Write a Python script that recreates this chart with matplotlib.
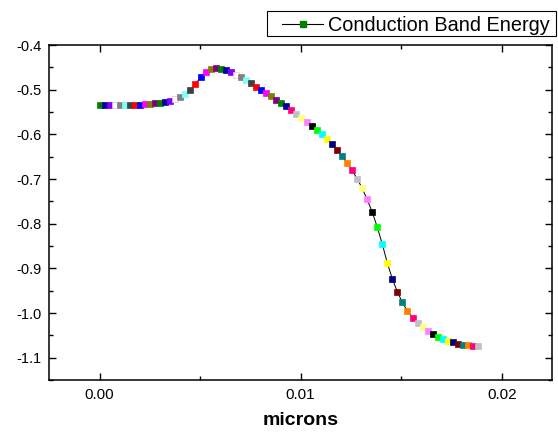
import numpy as np
import matplotlib
matplotlib.use("Agg")
from matplotlib import pyplot as plt
from matplotlib.lines import Line2D
from matplotlib.patches import Rectangle
from matplotlib.ticker import MultipleLocator

plt.rcParams['font.family'] = ['Liberation Sans', 'DejaVu Sans']

# position along the device (microns), one entry per visible marker
microns = [0.0, 0.000251, 0.000502, 0.000753, 0.001004, 0.001255, 0.001506,
           0.001757, 0.002008, 0.002259, 0.00251, 0.002761, 0.003012,
           0.003263, 0.003514, 0.003765, 0.004016, 0.004267, 0.004518,
           0.004769, 0.00502, 0.005271, 0.005522, 0.005773, 0.006024,
           0.006275, 0.006526, 0.006777, 0.007028, 0.007279, 0.00753,
           0.007781, 0.008032, 0.008283, 0.008534, 0.008785, 0.009036,
           0.009287, 0.009538, 0.009789, 0.01004, 0.010291, 0.010542,
           0.010793, 0.011044, 0.011295, 0.011546, 0.011797, 0.012048,
           0.012299, 0.01255, 0.012801, 0.013052, 0.013303, 0.013554,
           0.013805, 0.014056, 0.014307, 0.014558, 0.014809, 0.01506,
           0.015311, 0.015562, 0.015813, 0.016064, 0.016315, 0.016566,
           0.016817, 0.017068, 0.017319, 0.01757, 0.017821, 0.018072,
           0.018323, 0.018574, 0.018825]

# conduction band energy
energy = [-0.5342, -0.5342, -0.5342, -0.5342, -0.5342, -0.5342, -0.5339,
          -0.5335, -0.5335, -0.5327, -0.5320, -0.5305, -0.5290, -0.5275,
          -0.5245, -0.5216, -0.5163, -0.5104, -0.5007, -0.4880, -0.4716,
          -0.4604, -0.4544, -0.4522, -0.4530, -0.4567, -0.4611, -0.4664,
          -0.4723, -0.4790, -0.4858, -0.4932, -0.4999, -0.5074, -0.5148,
          -0.5223, -0.5298, -0.5372, -0.5445, -0.5544, -0.5626, -0.5715,
          -0.5805, -0.5902, -0.5998, -0.6110, -0.6222, -0.6349, -0.6483,
          -0.6632, -0.6796, -0.6990, -0.7199, -0.7453, -0.7736, -0.8072,
          -0.8452, -0.8877, -0.9235, -0.9526, -0.9764, -0.9958, -1.0107,
          -1.0227, -1.0316, -1.0398, -1.0473, -1.0533, -1.0585, -1.0622,
          -1.0659, -1.0689, -1.0711, -1.0726, -1.0734, -1.0741]

x_ticks = [0.00, 0.01, 0.02]
x_tick_labels = ['0.00', '0.01', '0.02']
y_ticks = [-1.1, -1.0, -0.9, -0.8, -0.7, -0.6, -0.5, -0.4]
y_tick_labels = ['-1.1', '-1.0', '-0.9', '-0.8', '-0.7', '-0.6', '-0.5', '-0.4']

# Origin's default colour increment list
origin_colors = ['#000000', '#FF0000', '#00FF00', '#0000FF', '#00FFFF', '#FF00FF',
                 '#FFFF00', '#808000', '#000080', '#800080', '#800000', '#008000',
                 '#008080', '#0000A0', '#FF8000', '#8000FF', '#FF0080', '#FFFFFF',
                 '#C0C0C0', '#808080', '#FFFF80', '#80FFFF', '#FF80FF', '#404040']

# which colour ends up on top for each visible marker
color_idx = []
for k in range(len(microns)):
    if k < 38:
        color_idx.append((11 + 2 * k) % 24)
    else:
        color_idx.append((16 + 2 * (k - 38)) % 24)

W, H = 558, 434
fig = plt.figure(figsize=(W / 100, H / 100), dpi=100)
ax = fig.add_axes([0.0884, 0.1244, 0.9009, 0.7719])

ax.plot(microns, energy, color='black', lw=0.7, zorder=2)
for xv, yv, ci in zip(microns, energy, color_idx):
    c = origin_colors[ci]
    ec = '#FFB8DC' if c == '#FFFFFF' else c
    ax.plot(xv, yv, marker='s', ms=3.9, mfc=c, mec=ec, mew=0.5, zorder=3)

ax.set_xlim(-0.0025, 0.0225)
ax.set_ylim(-1.15, -0.4)
ax.set_xticks(x_ticks)
ax.set_xticklabels(x_tick_labels)
ax.set_yticks(y_ticks)
ax.set_yticklabels(y_tick_labels)
ax.xaxis.set_minor_locator(MultipleLocator(0.005))
ax.yaxis.set_minor_locator(MultipleLocator(0.05))

ax.tick_params(which='both', direction='in', top=True, right=True, width=1.0)
ax.tick_params(which='major', length=5)
ax.tick_params(which='minor', length=3)
ax.tick_params(axis='x', labelsize=11, pad=6)
ax.tick_params(axis='y', labelsize=10.5, pad=5.5)
for sp in ax.spines.values():
    sp.set_linewidth(1.1)

ax.set_xlabel('microns', fontsize=14, fontweight='bold', labelpad=7)

# legend box drawn the Origin way: wide side padding, above the frame
box = Rectangle((267 / W, 1 - 36 / H), (556 - 267) / W, 25 / H,
                transform=fig.transFigure, facecolor='white',
                edgecolor='black', lw=0.8)
fig.add_artist(box)
ly = 1 - 23.5 / H
fig.add_artist(Line2D([282 / W, 323 / W], [ly, ly], transform=fig.transFigure,
                      color='black', lw=0.8))
fig.add_artist(Line2D([302.5 / W], [ly], transform=fig.transFigure,
                      marker='s', ms=4, mfc='#008000', mec='#008000'))
fig.text(328 / W, ly, 'Conduction Band Energy', fontsize=14.3,
         va='center_baseline', ha='left')

fig.savefig('out.png', dpi=100)
